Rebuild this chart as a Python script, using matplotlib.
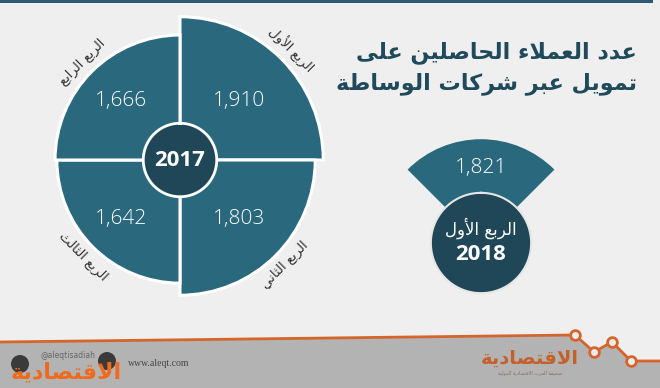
import numpy as np
import matplotlib
matplotlib.use("Agg")
import matplotlib.pyplot as plt
from matplotlib.patches import Rectangle, Circle, Polygon
from matplotlib.transforms import ScaledTranslation

# ---------------- data ----------------
quarters_2017 = ["الربع الأول", "الربع الثاني", "الربع الثالث", "الربع الرابع"]
values_2017 = [1910, 1803, 1642, 1666]
year_2017 = "2017"
quarter_2018 = "الربع الأول"
value_2018 = 1821
year_2018 = "2018"
title_lines = ["عدد العملاء الحاصلين على", "تمويل عبر شركات الوساطة"]

# ---------------- simple Arabic shaping ----------------
FORMS = {
    'ء': (0xFE80,), 'آ': (0xFE81, 0xFE82), 'أ': (0xFE83, 0xFE84), 'ؤ': (0xFE85, 0xFE86),
    'إ': (0xFE87, 0xFE88), 'ئ': (0xFE89, 0xFE8A, 0xFE8B, 0xFE8C), 'ا': (0xFE8D, 0xFE8E),
    'ب': (0xFE8F, 0xFE90, 0xFE91, 0xFE92), 'ة': (0xFE93, 0xFE94),
    'ت': (0xFE95, 0xFE96, 0xFE97, 0xFE98), 'ث': (0xFE99, 0xFE9A, 0xFE9B, 0xFE9C),
    'ج': (0xFE9D, 0xFE9E, 0xFE9F, 0xFEA0), 'ح': (0xFEA1, 0xFEA2, 0xFEA3, 0xFEA4),
    'خ': (0xFEA5, 0xFEA6, 0xFEA7, 0xFEA8), 'د': (0xFEA9, 0xFEAA), 'ذ': (0xFEAB, 0xFEAC),
    'ر': (0xFEAD, 0xFEAE), 'ز': (0xFEAF, 0xFEB0), 'س': (0xFEB1, 0xFEB2, 0xFEB3, 0xFEB4),
    'ش': (0xFEB5, 0xFEB6, 0xFEB7, 0xFEB8), 'ص': (0xFEB9, 0xFEBA, 0xFEBB, 0xFEBC),
    'ض': (0xFEBD, 0xFEBE, 0xFEBF, 0xFEC0), 'ط': (0xFEC1, 0xFEC2, 0xFEC3, 0xFEC4),
    'ظ': (0xFEC5, 0xFEC6, 0xFEC7, 0xFEC8), 'ع': (0xFEC9, 0xFECA, 0xFECB, 0xFECC),
    'غ': (0xFECD, 0xFECE, 0xFECF, 0xFED0), 'ف': (0xFED1, 0xFED2, 0xFED3, 0xFED4),
    'ق': (0xFED5, 0xFED6, 0xFED7, 0xFED8), 'ك': (0xFED9, 0xFEDA, 0xFEDB, 0xFEDC),
    'ل': (0xFEDD, 0xFEDE, 0xFEDF, 0xFEE0), 'م': (0xFEE1, 0xFEE2, 0xFEE3, 0xFEE4),
    'ن': (0xFEE5, 0xFEE6, 0xFEE7, 0xFEE8), 'ه': (0xFEE9, 0xFEEA, 0xFEEB, 0xFEEC),
    'و': (0xFEED, 0xFEEE), 'ى': (0xFEEF, 0xFEF0), 'ي': (0xFEF1, 0xFEF2, 0xFEF3, 0xFEF4),
}
LAMALEF = {'آ': (0xFEF5, 0xFEF6), 'أ': (0xFEF7, 0xFEF8), 'إ': (0xFEF9, 0xFEFA), 'ا': (0xFEFB, 0xFEFC)}


def shape(text):
    toks = []
    i = 0
    while i < len(text):
        c = text[i]
        if c == 'ل' and i + 1 < len(text) and text[i + 1] in LAMALEF:
            toks.append(('LA', text[i + 1]))
            i += 2
        else:
            toks.append(c)
            i += 1

    def jtype(t):
        if isinstance(t, tuple):
            return 'R'
        f = FORMS.get(t)
        if f is None or len(f) == 1:
            return 'U'
        return 'D' if len(f) == 4 else 'R'

    out = []
    for k, t in enumerate(toks):
        jt = jtype(t)
        prev = k > 0 and jt in ('D', 'R') and jtype(toks[k - 1]) == 'D'
        nxt = jt == 'D' and k + 1 < len(toks) and jtype(toks[k + 1]) in ('D', 'R')
        if isinstance(t, tuple):
            f = LAMALEF[t[1]]
            out.append(chr(f[1] if prev else f[0]))
        elif jt == 'U':
            out.append(chr(FORMS[t][0]) if t in FORMS else t)
        else:
            f = FORMS[t]
            if jt == 'D':
                idx = 3 if (prev and nxt) else 1 if prev else 2 if nxt else 0
            else:
                idx = 1 if prev else 0
            out.append(chr(f[idx]))
    return ''.join(reversed(out))


# ---------------- styles ----------------
BG = '#efefef'
TEAL = '#2a687e'
DARK = '#1f4757'
TITLE_C = '#1f4a5c'
ORANGE = '#d5652c'
GRAY = '#b3b3b3'
AR = 'DejaVu Sans'
NUMF = ['Open Sans', 'DejaVu Sans']
BOLDF = ['Open Sans', 'DejaVu Sans']

W, H = 660, 388
fig = plt.figure(figsize=(W / 100, H / 100), dpi=100)
fig.patch.set_facecolor(BG)

bg = fig.add_axes([0, 0, 1, 1])
bg.set_xlim(0, W)
bg.set_ylim(H, 0)
bg.axis('off')

# top strip
bg.add_patch(Rectangle((0, 0), 653, 2.5, color='#2e5b70', lw=0))

# footer
path = [(0, 342), (575, 335), (594, 352), (612, 342), (631, 361), (660, 361)]
bg.add_patch(Polygon(path + [(660, H), (0, H)], closed=True, color=GRAY, lw=0))
px, py = zip(*path)
bg.plot(px, py, color=ORANGE, lw=2, solid_capstyle='butt')
bg.plot(px[1:5], py[1:5], 'o', ms=7, mfc='#ececec', mec=ORANGE, mew=2)
bg.add_patch(Circle((20, 364), 9, color='#3a3a3a', lw=0))
bg.add_patch(Circle((107, 361), 9, color='#3a3a3a', lw=0))
bg.text(68, 355, "@aleqtisadiah", fontsize=5.5, color='#666666', ha='center', va='center')
bg.text(66, 372, shape("الاقتصادية"), fontsize=16, fontweight='bold', color='#f06a1e',
        family=AR, ha='center', va='center')
bg.text(128, 363, "www.aleqt.com", fontsize=7, color='#444444', ha='left', va='center',
        family='Liberation Serif')
bg.text(530, 358, shape("الاقتصادية"), fontsize=14, fontweight='bold', color='#c4612b',
        family=AR, ha='center', va='center')
bg.text(530, 373, shape("صحيفة العرب الاقتصادية الدولية"), fontsize=3.5, color='#8a6a5a',
        family=AR, ha='center', va='center')

# title
bg.text(637, 53, shape(title_lines[0]), fontsize=16, fontweight='bold', color=TITLE_C,
        family=AR, ha='right', va='center')
bg.text(637, 84, shape(title_lines[1]), fontsize=16, fontweight='bold', color=TITLE_C,
        family=AR, ha='right', va='center')


def ring(axp, r, color, lw, z):
    t = np.linspace(0, 2 * np.pi, 361)
    axp.plot(t, np.full_like(t, r), color=color, lw=lw, zorder=z)


# ---------------- 2017 rose ----------------
RMAX = 2000
cx, cy, R = 180, 160, 150
ax = fig.add_axes([(cx - R) / W, (H - cy - R) / H, 2 * R / W, 2 * R / H], projection='polar')
ax.set_theta_zero_location('N')
ax.set_theta_direction(-1)
ax.set_ylim(0, RMAX)
ax.axis('off')
ax.patch.set_alpha(0)

thetas = np.arange(4) * np.pi / 2
ax.bar(thetas, values_2017, width=np.pi / 2, align='edge', color=TEAL,
       edgecolor='white', linewidth=2.2)
rc = 0.245 * RMAX
ax.bar(0, rc, width=2 * np.pi, color=DARK, edgecolor='none', zorder=3)
ring(ax, rc, 'white', 2, 3.1)
ax.text(0, 0, year_2017, fontsize=16, fontweight='bold', color='white', family=BOLDF,
        ha='center', va='center', zorder=4)

rots = [-45, 45, -45, 45]
for th, v, lab, rot in zip(thetas + np.pi / 4, values_2017, quarters_2017, rots):
    ax.text(th, 0.56 * RMAX, f"{v:,}", fontsize=15, fontweight='light', family=NUMF,
            color='white', ha='center', va='center', zorder=4)
    ax.text(th, v + 0.09 * RMAX, shape(lab), fontsize=9.5, family=AR, color='#333333',
            rotation=rot, rotation_mode='anchor', ha='center', va='center', clip_on=False)

# ---------------- 2018 wedge ----------------
cx2, cy2, R2 = 481, 243, 114
ax2 = fig.add_axes([(cx2 - R2) / W, (H - cy2 - R2) / H, 2 * R2 / W, 2 * R2 / H], projection='polar')
ax2.set_theta_zero_location('N')
ax2.set_theta_direction(-1)
ax2.set_ylim(0, RMAX)
ax2.axis('off')
ax2.patch.set_alpha(0)
ax2.bar(0, value_2018, width=np.pi / 2, align='center', color=TEAL, edgecolor='none')
rc2 = 0.44 * RMAX
ax2.bar(0, rc2, width=2 * np.pi, color=DARK, edgecolor='none', zorder=3)
ring(ax2, rc2, '#e6e6e6', 1.5, 3.1)
ax2.text(0, 0.66 * RMAX, f"{value_2018:,}", fontsize=15, fontweight='light', family=NUMF,
         color='white', ha='center', va='center', zorder=4)
ax2.text(0, 0, shape(quarter_2018), fontsize=12, family=AR, color='white',
         ha='center', va='center', zorder=4,
         transform=ax2.transData + ScaledTranslation(0, 15 / 100, fig.dpi_scale_trans))
ax2.text(0, 0, year_2018, fontsize=16, fontweight='bold', family=BOLDF, color='white',
         ha='center', va='center', zorder=4,
         transform=ax2.transData + ScaledTranslation(0, -12 / 100, fig.dpi_scale_trans))

fig.savefig('out.png', dpi=100, facecolor=BG)
